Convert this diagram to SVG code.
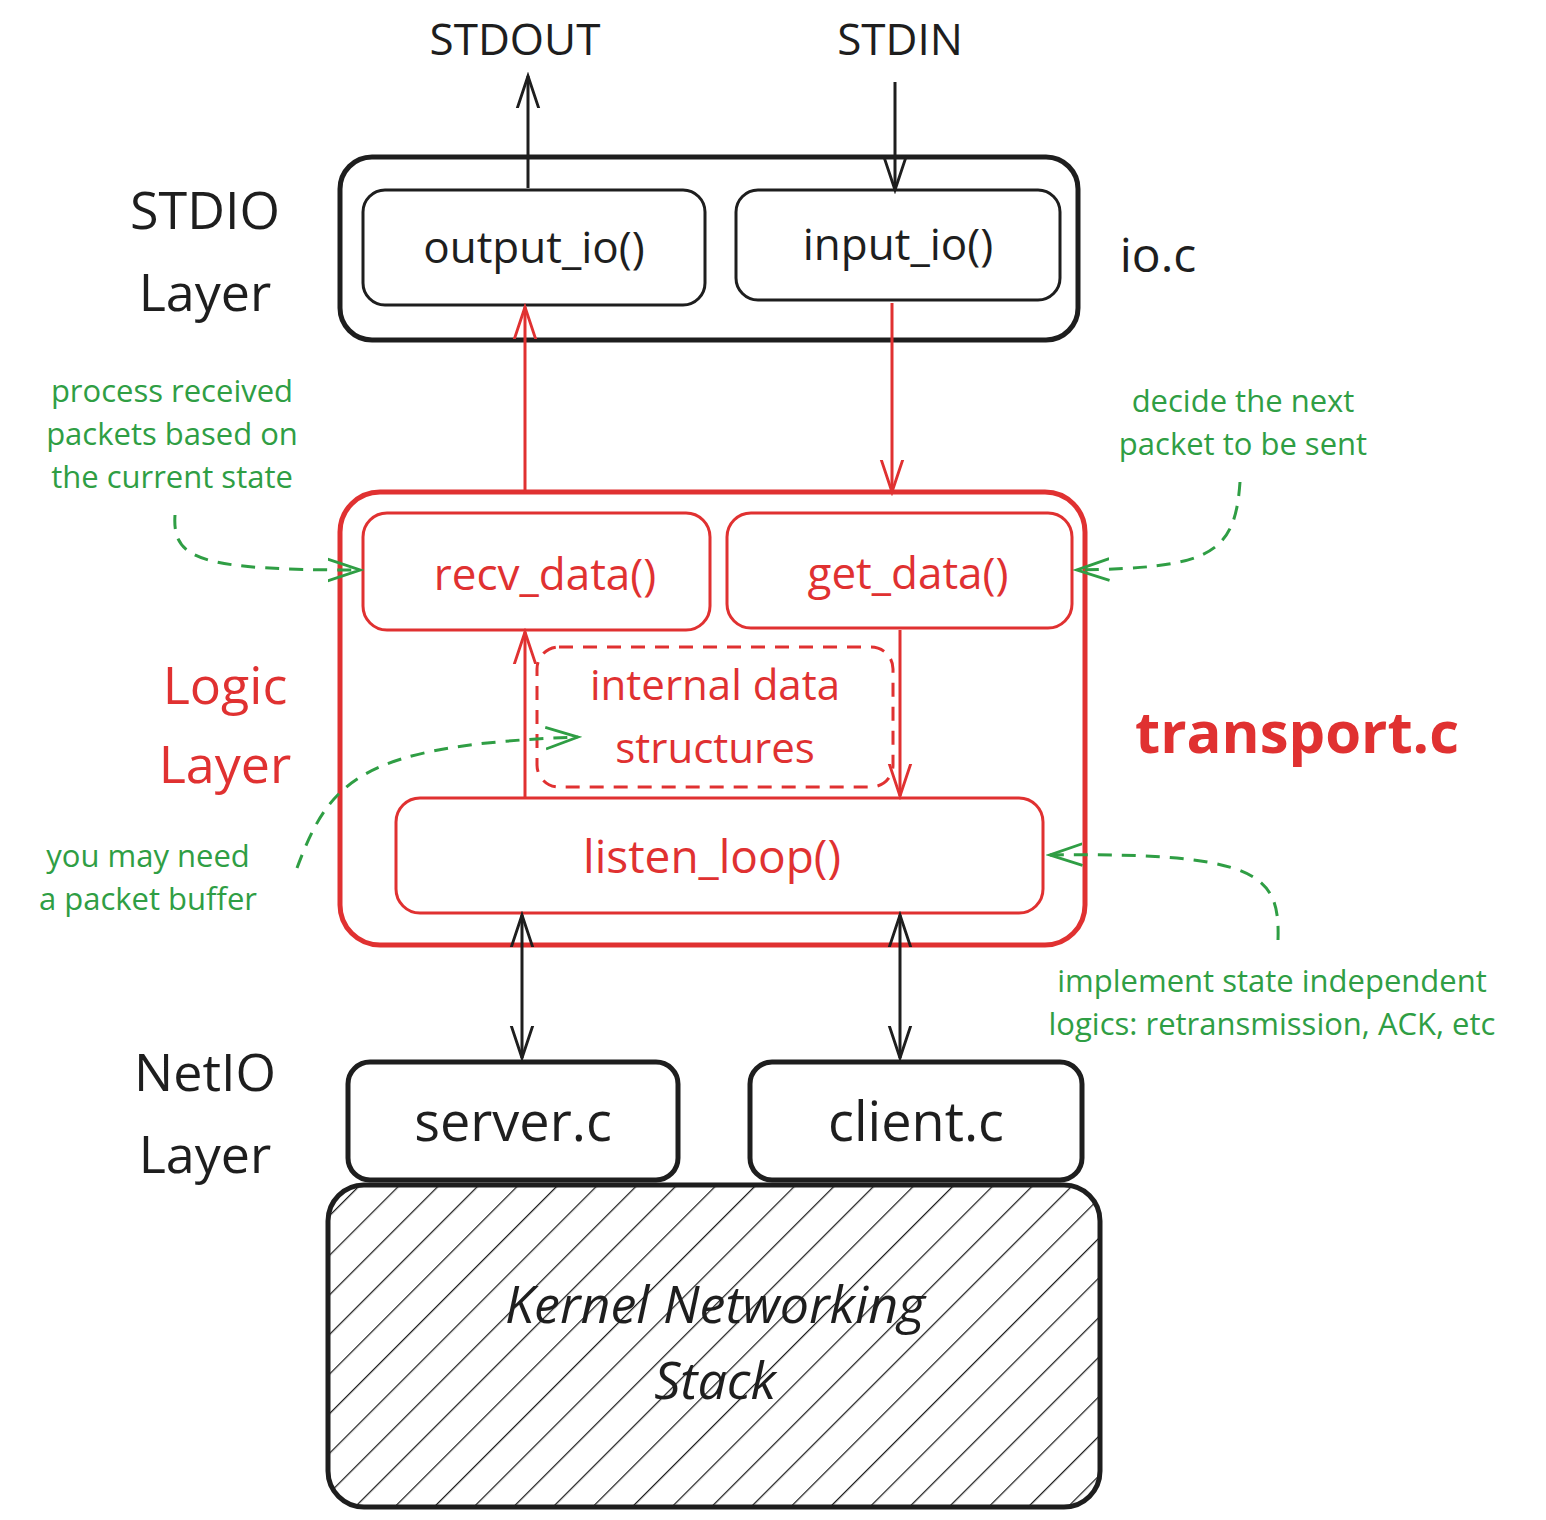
<svg xmlns="http://www.w3.org/2000/svg" width="1546" height="1520" viewBox="0 0 1546 1520">
<defs>
<style>
text{font-family:"Open Sans","Liberation Sans",sans-serif;text-anchor:middle;dominant-baseline:central}
.k{fill:#1e1e1e}.r{fill:#e03131}.g{fill:#2f9e44}
.bx{fill:none;stroke:#1e1e1e;stroke-width:3}
.rb{fill:none;stroke:#e03131;stroke-width:3}
.ln{fill:none;stroke-width:3}
.gd{fill:none;stroke:#2f9e44;stroke-width:3;stroke-dasharray:14 10}
</style>
<marker id="ak" viewBox="0 0 20 20" refX="18" refY="10" markerWidth="36" markerHeight="36" orient="auto-start-reverse" markerUnits="userSpaceOnUse"><path d="M0,4 L18,10 L0,16" fill="none" stroke="#1e1e1e" stroke-width="1.6"/></marker>
<marker id="ar" viewBox="0 0 20 20" refX="18" refY="10" markerWidth="36" markerHeight="36" orient="auto-start-reverse" markerUnits="userSpaceOnUse"><path d="M0,4 L18,10 L0,16" fill="none" stroke="#e03131" stroke-width="1.6"/></marker>
<marker id="ag" viewBox="0 0 20 20" refX="18" refY="10" markerWidth="36" markerHeight="36" orient="auto" markerUnits="userSpaceOnUse"><path d="M0,4 L18,10 L0,16" fill="none" stroke="#2f9e44" stroke-width="1.6"/></marker>
<pattern id="hatch" width="28" height="28" patternUnits="userSpaceOnUse" patternTransform="rotate(45)"><line x1="0" y1="0" x2="0" y2="28" stroke="#1e1e1e" stroke-width="2.5"/></pattern>
</defs>
<g id="labels">
<text x="515" y="38" font-size="44" class="k">STDOUT</text>
<text x="900" y="38" font-size="44" class="k">STDIN</text>
<text x="205" y="208" font-size="52" class="k">STDIO</text>
<text x="205" y="290" font-size="52" class="k">Layer</text>
<text x="1158" y="253" font-size="48" class="k">io.c</text>
<text x="225" y="683" font-size="52" class="r">Logic</text>
<text x="225" y="762" font-size="52" class="r">Layer</text>
<text x="1297" y="730" font-size="58" font-weight="bold" class="r">transport.c</text>
<text x="205" y="1070" font-size="52" class="k">NetIO</text>
<text x="205" y="1152" font-size="52" class="k">Layer</text>
<text x="172" y="390" font-size="31" class="g">process received</text>
<text x="172" y="433" font-size="31" class="g">packets based on</text>
<text x="172" y="476" font-size="31" class="g">the current state</text>
<text x="1243" y="400" font-size="31" class="g">decide the next</text>
<text x="1243" y="443" font-size="31" class="g">packet to be sent</text>
<text x="148" y="855" font-size="31" class="g">you may need</text>
<text x="148" y="898" font-size="31" class="g">a packet buffer</text>
<text x="1272" y="980" font-size="31" class="g">implement state independent</text>
<text x="1272" y="1023" font-size="31" class="g">logics: retransmission, ACK, etc</text>
</g>
<g id="io">
<rect x="340" y="157" width="738" height="183" rx="32" class="bx" style="stroke-width:5"/>
</g>
<g id="output_io"><rect x="363" y="190" width="342" height="115" rx="22" class="bx"/><text x="534" y="246" font-size="44" class="k">output_io()</text></g>
<g id="input_io"><rect x="736" y="190" width="324" height="110" rx="22" class="bx"/><text x="898" y="243" font-size="44" class="k">input_io()</text></g>
<g id="logic"><rect x="340" y="492" width="745" height="453" rx="40" class="rb" style="stroke-width:5"/></g>
<g id="recv"><rect x="363" y="513" width="347" height="117" rx="24" class="rb"/><text x="545" y="573" font-size="44" class="r">recv_data()</text></g>
<g id="get"><rect x="727" y="513" width="345" height="115" rx="24" class="rb"/><text x="908" y="572" font-size="44" class="r">get_data()</text></g>
<g id="internal"><rect x="537" y="647" width="356" height="140" rx="22" class="rb" stroke-dasharray="14 10"/><text x="715" y="683" font-size="42" class="r">internal data</text><text x="715" y="746" font-size="42" class="r">structures</text></g>
<g id="listen"><rect x="396" y="798" width="647" height="115" rx="24" class="rb"/><text x="712" y="855" font-size="46" class="r">listen_loop()</text></g>
<g id="server"><rect x="348" y="1062" width="330" height="118" rx="22" class="bx" style="stroke-width:5"/><text x="513" y="1120" font-size="54" class="k">server.c</text></g>
<g id="client"><rect x="750" y="1062" width="332" height="118" rx="22" class="bx" style="stroke-width:5"/><text x="916" y="1120" font-size="54" class="k">client.c</text></g>
<g id="kernel"><rect x="328" y="1185" width="772" height="322" rx="36" fill="url(#hatch)" stroke="#1e1e1e" stroke-width="5"/>
<text x="715" y="1302" font-size="52" font-style="italic" class="k">Kernel Networking</text><text x="715" y="1378" font-size="52" font-style="italic" class="k">Stack</text></g>
<g id="connectors">
<path d="M528,188 L528,76" class="ln" stroke="#1e1e1e" marker-end="url(#ak)"/>
<path d="M895,82 L895,190" class="ln" stroke="#1e1e1e" marker-end="url(#ak)"/>
<path d="M525,492 L525,307" class="ln" stroke="#e03131" marker-end="url(#ar)"/>
<path d="M892,303 L892,492" class="ln" stroke="#e03131" marker-end="url(#ar)"/>
<path d="M525,798 L525,632" class="ln" stroke="#e03131" marker-end="url(#ar)"/>
<path d="M900,630 L900,796" class="ln" stroke="#e03131" marker-end="url(#ar)"/>
<path d="M522,915 L522,1058" class="ln" stroke="#1e1e1e" marker-start="url(#ak)" marker-end="url(#ak)"/>
<path d="M900,915 L900,1058" class="ln" stroke="#1e1e1e" marker-start="url(#ak)" marker-end="url(#ak)"/>
<path d="M175,515 C172,560 200,570 360,570" class="gd" marker-end="url(#ag)"/>
<path d="M1240,482 C1235,555 1210,568 1077,570" class="gd" marker-end="url(#ag)"/>
<path d="M1278,940 C1280,875 1260,852 1050,855" class="gd" marker-end="url(#ag)"/>
<path d="M297,868 C330,780 360,745 578,737" class="gd" marker-end="url(#ag)"/>
</g>
</svg>
